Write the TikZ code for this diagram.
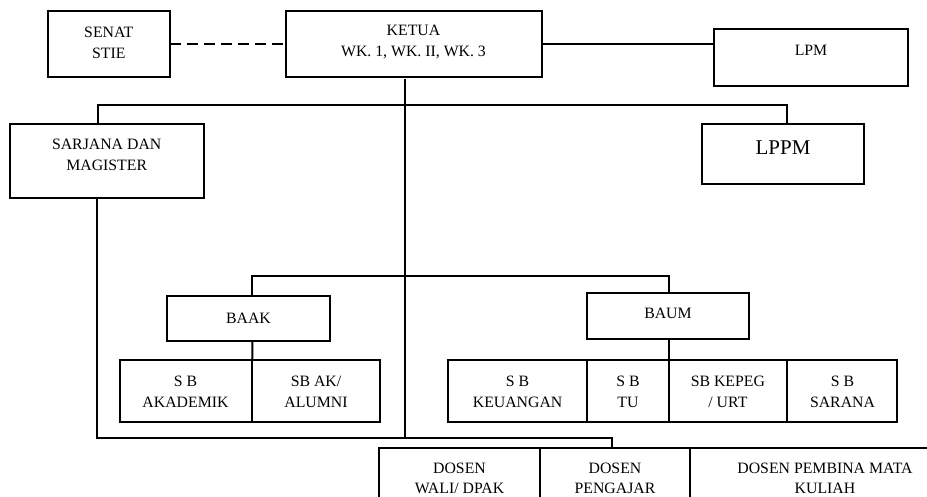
\documentclass[tikz,border=0pt]{standalone}
\usepackage{fontspec}
\setmainfont{Liberation Serif}
\begin{document}
\begin{tikzpicture}[x=1pt,y=-1pt, line width=2pt,
  box/.style={draw=black, line width=2pt, inner sep=0pt, outer sep=0pt, rectangle},
  txt/.style={inner sep=0pt, align=center, font=\fontsize{15.8}{21}\selectfont},
  rowtxt/.style={inner sep=0pt, align=center, font=\fontsize{15.8}{20.5}\selectfont},
  bigtxt/.style={inner sep=0pt, align=center, font=\fontsize{21}{25}\selectfont},
  dashline/.style={line width=2pt, dash pattern=on 11pt off 6pt}
]
\useasboundingbox (0,0) rectangle (927,497);
\clip (0,0) rectangle (927,497);

% top level
\node[box, minimum width=122.3pt, minimum height=66pt] (senat) at (108.85,43.7) {};
\node[txt] (senatT) at (108.8,42.5) {SENAT\\STIE};
\node[box, minimum width=256pt, minimum height=66pt] (ketua) at (413.7,43.7) {};
\node[txt] (ketuaT) at (413.5,42.5) {KETUA\\WK. 1, WK. II, WK. 3};
\node[box, minimum width=194.3pt, minimum height=57pt] (lpm) at (811.15,57.8) {};
\node[txt] (lpmT) at (811,50) {LPM};

% second level
\node[box, minimum width=194pt, minimum height=73.7pt] (sarjana) at (107,160.85) {};
\node[txt] (sarjanaT) at (106.7,154.5) {SARJANA DAN\\MAGISTER};
\node[box, minimum width=162.6pt, minimum height=59.7pt] (lppm) at (783,153.85) {};
\node[bigtxt] (lppmT) at (783,148) {LPPM};

% third level
\node[box, minimum width=162.7pt, minimum height=44.7pt] (baak) at (248.65,318.35) {};
\node[txt] (baakT) at (248.5,318.3) {BAAK};
\node[box, minimum width=162.6pt, minimum height=46.6pt] (baum) at (668,316) {};
\node[txt] (baumT) at (668,313.3) {BAUM};

% rows under BAAK and BAUM
\node[box, minimum width=132.3pt, minimum height=61.7pt] (sbak) at (186.15,390.85) {};
\node[rowtxt] (sbakT) at (185.5,391.7) {S B\\AKADEMIK};
\node[box, minimum width=127.7pt, minimum height=61.7pt] (sbal) at (316.15,390.85) {};
\node[rowtxt] (sbalT) at (316,391.7) {SB AK/\\ALUMNI};
\node[box, minimum width=138.4pt, minimum height=61.7pt] (keu) at (517.5,390.85) {};
\node[rowtxt] (keuT) at (517.6,391.7) {S B\\KEUANGAN};
\node[box, minimum width=82.3pt, minimum height=61.7pt] (tu) at (627.85,390.85) {};
\node[rowtxt] (tuT) at (628,391.7) {S B\\TU};
\node[box, minimum width=118.3pt, minimum height=61.7pt] (kepeg) at (728.15,390.85) {};
\node[rowtxt] (kepegT) at (727.9,391.7) {SB KEPEG\\/ URT};
\node[box, minimum width=109.4pt, minimum height=61.7pt] (sarana) at (842,390.85) {};
\node[rowtxt] (saranaT) at (842.5,391.7) {S B\\SARANA};

% dosen row
\node[box, minimum width=160.7pt, minimum height=71.7pt] (wali) at (459.65,484.15) {};
\node[rowtxt] (waliT) at (459.5,478.3) {DOSEN\\WALI/ DPAK};
\node[box, minimum width=150pt, minimum height=71.7pt] (pengajar) at (615,484.15) {};
\node[rowtxt] (pengajarT) at (615,478.3) {DOSEN\\PENGAJAR};
\node[box, minimum width=270pt, minimum height=71.7pt] (pembina) at (825,484.15) {};
\node[rowtxt] (pembinaT) at (825,478.3) {DOSEN PEMBINA MATA\\KULIAH};

% connectors
\draw[dashline] (senat.east) -- (ketua.west);
\draw (ketua.east) -- (ketua.east -| lpm.west);

\coordinate (trunkB) at (405,437.7);
\draw ([shift={(-8.7,2.3)}]ketua.south) -- (trunkB);

\coordinate (bus1L) at (97.7,105);
\coordinate (bus1R) at (786.7,105);
\draw (sarjana.north -| bus1L) -- (bus1L) -- (bus1R) -- (lppm.north -| bus1R);

\coordinate (bus2L) at (252.3,276);
\coordinate (bus2R) at (669,276);
\draw (baak.north -| bus2L) -- (bus2L) -- (bus2R) -- (baum.north -| bus2R);
\draw (baak.south -| bus2L) -- (sbak.north east);
\draw (baum.south -| bus2R) -- (tu.north east);

\coordinate (bus3L) at (97.3,437.7);
\coordinate (bus3R) at (611.7,437.7);
\draw (sarjana.south -| bus3L) -- (bus3L) -- (bus3R) -- (bus3R |- pengajar.north);
\end{tikzpicture}
\end{document}
